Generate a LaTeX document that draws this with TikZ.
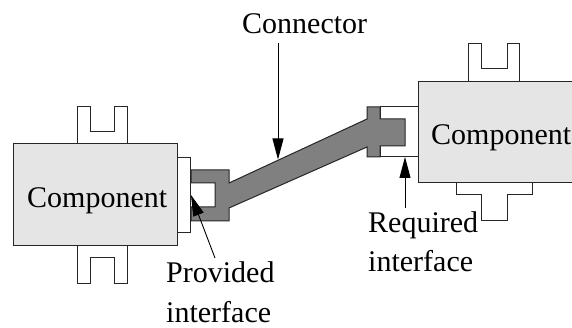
\documentclass[tikz,border=0pt]{standalone}
\usepackage{fontspec}
\setmainfont{Liberation Serif}
\usetikzlibrary{arrows.meta}
\begin{document}
\begin{tikzpicture}[x=1pt,y=-1pt,
  outline/.style={draw=black!85,line width=1pt,line join=miter},
  compbox/.style={outline,fill=black!10,inner sep=0pt},
  port/.style={outline,fill=white},
  conn/.style={outline,fill=black!50},
  lbl/.style={font=\fontsize{30}{36}\selectfont,inner sep=0pt,anchor=base west},
  pointer/.style={draw=black,line width=0.9pt,-{Triangle[length=21pt 0 0,width=11pt 0 0]}}]
\useasboundingbox (0,0) rectangle (572,328);
% left component
\draw[port] (77,144) -- (77,107) -- (90,107) -- (90,132) -- (114,132) -- (114,107) -- (127,107) -- (127,144);
\draw[port] (77,246) -- (77,283) -- (90,283) -- (90,258) -- (114,258) -- (114,283) -- (127,283) -- (127,246);
\node[compbox,minimum width=164pt,minimum height=102pt] (compL) at (95,195) {};
\node[port,inner sep=0pt,minimum width=13pt,minimum height=75pt] (provL) at (183.5,195.5) {};
% right component
\draw[port] (468,82) -- (468,44) -- (481,44) -- (481,69) -- (507,69) -- (507,44) -- (519,44) -- (519,82);
\draw[port] (456,183) -- (456,195) -- (481,195) -- (481,221) -- (507,221) -- (507,195) -- (532,195) -- (532,183);
\node[compbox,minimum width=157pt,minimum height=101pt] (compR) at (496.5,132.5) {};
\node[port,inner sep=0pt,minimum width=38pt,minimum height=50pt] (reqR) at (399,132) {};
% connector
\draw[conn] (191,170) -- (229,170) -- (229,183) -- (367,119) -- (367,107) -- (380,107) -- (380,119)
  -- (405,119) -- (405,146) -- (380,146) -- (380,157) -- (367,157) -- (367,147) -- (229,208)
  -- (229,221) -- (191,221) -- (191,207) -- (215,207) -- (215,183) -- (191,183) -- cycle;
% labels
\node[lbl] (tCompL) at (27,208) {Component};
\node[lbl] (tCompR) at (431,145) {Component};
\node[lbl] (tConn) at (242,34) {Connector};
\node[lbl] (tProv1) at (166,283) {Provided};
\node[lbl] (tProv2) at (166,322) {interface};
\node[lbl] (tReq1) at (368,233) {Required};
\node[lbl] (tReq2) at (368,272) {interface};
% pointers
\coordinate (cStart) at (278,43);
\coordinate (cTip) at (278,159.5);
\coordinate (pStart) at (215,258);
\coordinate (pTip) at (191,195);
\coordinate (rStart) at (405,208);
\coordinate (rTip) at (405,157);
\draw[pointer] (cStart) -- (cTip);
\draw[pointer] (pStart) -- (pTip);
\draw[pointer] (rStart) -- (rTip);
\end{tikzpicture}
\end{document}
